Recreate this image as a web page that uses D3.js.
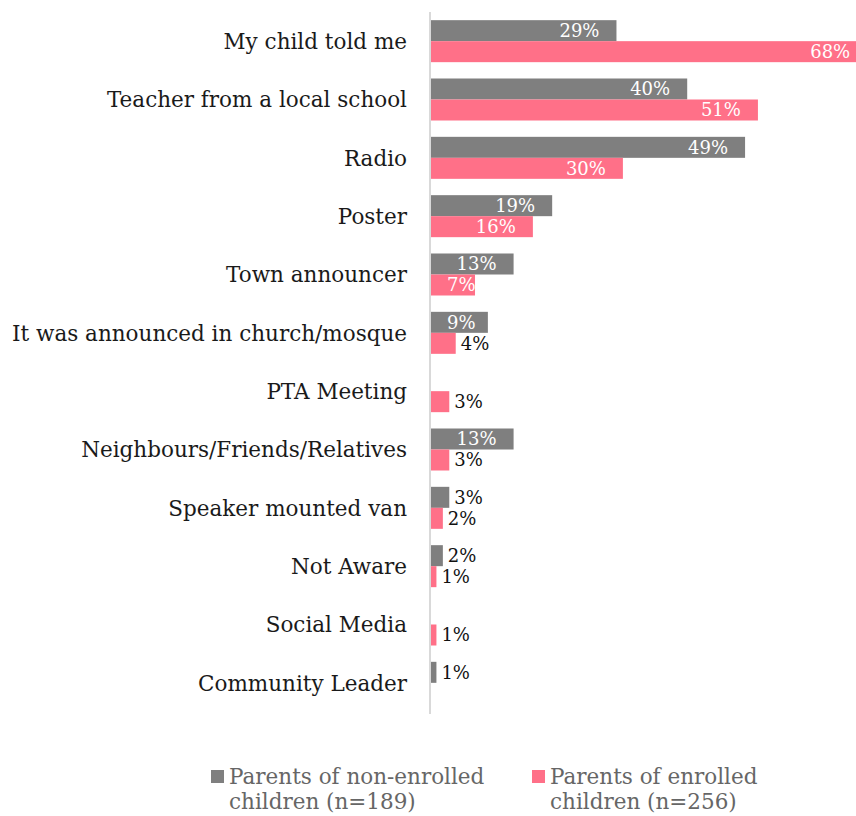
<!DOCTYPE html>
<html>
<head>
<meta charset="utf-8">
<script src="https://cdn.jsdelivr.net/npm/d3@7"></script>
<style>
  html, body { margin: 0; padding: 0; background: #fff; }
  svg { display: block; font-family: "DejaVu Serif", serif; }
</style>
</head>
<body>
<div id="chart"></div>
<script>
// How parents heard about the programme (% of respondents)
const categories = [
  "My child told me",
  "Teacher from a local school",
  "Radio",
  "Poster",
  "Town announcer",
  "It was announced in church/mosque",
  "PTA Meeting",
  "Neighbours/Friends/Relatives",
  "Speaker mounted van",
  "Not Aware",
  "Social Media",
  "Community Leader"
];
const nonEnrolled = [29, 40, 49, 19, 13, 9, 0, 13, 3, 2, 0, 1];
const enrolled    = [68, 51, 30, 16, 7, 4, 3, 3, 2, 1, 1, 0];
const seriesNames = [
  ["Parents of non-enrolled", "children (n=189)"],
  ["Parents of enrolled", "children (n=256)"]
];
const seriesColors = ["#7f7f7f", "#ff7088"];

const W = 856, H = 816;
const FS = 21.5;      // category and legend text
const FS_VAL = 18;    // value labels
const svg = d3.select("#chart").append("svg").attr("width", W).attr("height", H);

const y = d3.scaleBand().domain(categories).range([12, 712])
  .paddingInner(0.28).paddingOuter(0.14);
const sub = d3.scaleBand().domain([0, 1]).range([0, y.bandwidth()]);
const x = d3.scaleLinear().domain([0, 100]).range([430, 1073]);

const series = [nonEnrolled, enrolled];
const rows = [];
series.forEach((vals, s) => vals.forEach((v, i) => rows.push({ s, cat: categories[i], v })));

// bars
svg.append("g").selectAll("rect")
  .data(rows.filter(d => d.v > 0))
  .join("rect")
  .attr("x", x(0))
  .attr("y", d => y(d.cat) + sub(d.s))
  .attr("width", d => x(d.v) - x(0))
  .attr("height", sub.bandwidth())
  .attr("fill", d => seriesColors[d.s]);

// category axis
const axis = svg.append("g").attr("transform", `translate(${x(0)},0)`)
  .call(d3.axisLeft(y).tickSize(0).tickPadding(23));
axis.select(".domain").attr("stroke", "#d9d9d9").attr("stroke-width", 2)
  .attr("d", `M0,12V714`);
axis.selectAll(".tick text")
  .attr("font-size", FS).attr("fill", "#1a1a1a")
  .attr("font-family", "DejaVu Serif, serif")
  .attr("dy", "0.36em");

// value labels: inside the bar end (white) when it fits, else just past it
const labels = svg.append("g").selectAll("text")
  .data(rows.filter(d => d.v > 0))
  .join("text")
  .attr("font-size", FS_VAL)
  .attr("y", d => y(d.cat) + sub(d.s) + sub.bandwidth() / 2)
  .attr("dy", "0.36em")
  .attr("fill", d => d.v >= 7 ? "#ffffff" : "#111111")
  .text(d => d.v + "%");

labels.each(function(d) {
  const t = d3.select(this);
  const w = this.getComputedTextLength();
  if (d.v >= 7) {
    t.attr("x", Math.max(x(d.v) - 17 - w, x(0) + 17));
  } else {
    t.attr("x", x(d.v) + 5);
  }
});

// legend
const legend = svg.append("g");
const legendX = [211, 532];
seriesNames.forEach((lines, s) => {
  const g = legend.append("g").attr("transform", `translate(${legendX[s]},770)`);
  g.append("rect").attr("width", 13).attr("height", 13).attr("fill", seriesColors[s]);
  g.append("text").attr("x", 18).attr("y", 14).attr("font-size", FS).attr("fill", "#666")
    .selectAll("tspan").data(lines).join("tspan")
    .attr("x", 18).attr("dy", (l, i) => i ? 25 : 0).text(l => l);
});
</script>
</body>
</html>
